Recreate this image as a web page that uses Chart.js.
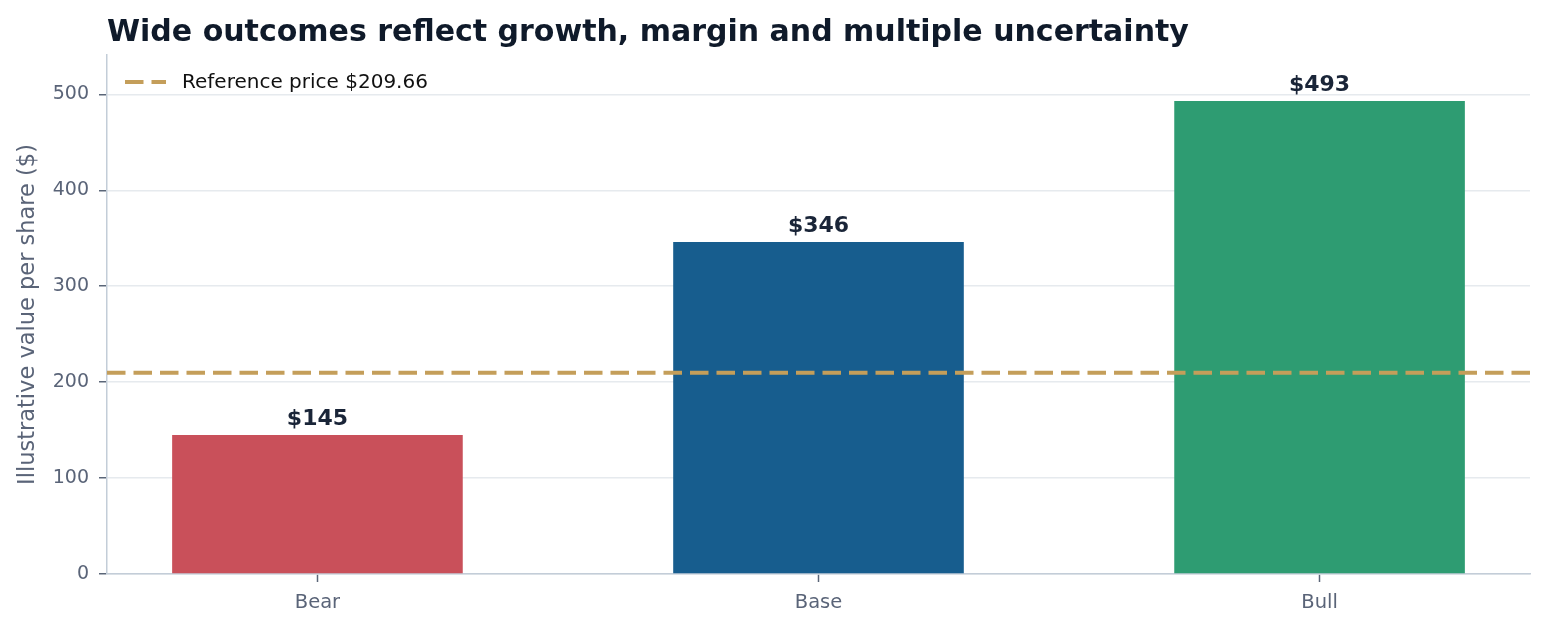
<!DOCTYPE html>
<html>
<head>
<meta charset="utf-8">
<script src="https://cdn.jsdelivr.net/npm/chart.js@4.4.1/dist/chart.umd.min.js"></script>
<style>
  html, body { margin: 0; padding: 0; background: #ffffff; }
  #wrap { width: 1548px; height: 628px; position: relative; }
</style>
</head>
<body>
<div id="wrap"><canvas id="chart"></canvas></div>
<script>
// Data
const scenarios = ['Bear', 'Base', 'Bull'];
const values = [145, 346, 493];
const barColors = ['#c9505a', '#175d8e', '#2e9c72'];
const refPrice = 209.66;
const refLabel = 'Reference price $209.66';
const yTicks = [0, 100, 200, 300, 400, 500];

const titleText = 'Wide outcomes reflect growth, margin and multiple uncertainty';
const FONT = "'DejaVu Sans', sans-serif";

// x axis bounds (matplotlib-like margins around the 3 bars)
const xMin = -0.42, xMax = 2.42;

// Title drawn flush with the plot's left edge
const titlePlugin = {
    id: 'leftTitle',
    afterDraw(chart) {
        const ctx = chart.ctx;
        ctx.save();
        ctx.font = 'bold 30px ' + FONT;
        ctx.fillStyle = '#0f1a2a';
        ctx.textBaseline = 'alphabetic';
        ctx.textAlign = 'left';
        ctx.fillText(titleText, chart.chartArea.left, 41);
        ctx.restore();
    }
};

// Value labels above each bar
const barLabels = {
    id: 'barLabels',
    afterDatasetsDraw(chart) {
        const ctx = chart.ctx;
        const meta = chart.getDatasetMeta(1);
        ctx.save();
        ctx.font = 'bold 22px ' + FONT;
        ctx.fillStyle = '#1a2538';
        ctx.textAlign = 'center';
        ctx.textBaseline = 'alphabetic';
        meta.data.forEach((bar, i) => {
            ctx.fillText('$' + values[i], bar.x, bar.y - 10);
        });
        ctx.restore();
    }
};

// Legend inside the plot, top-left
const innerLegend = {
    id: 'innerLegend',
    afterDraw(chart) {
        const ctx = chart.ctx;
        const x0 = chart.chartArea.left + 18;
        const y0 = 82;
        ctx.save();
        ctx.strokeStyle = '#c49e5a';
        ctx.lineWidth = 4;
        ctx.setLineDash([18.5, 8]);
        ctx.beginPath();
        ctx.moveTo(x0, y0);
        ctx.lineTo(x0 + 41, y0);
        ctx.stroke();
        ctx.setLineDash([]);
        ctx.font = '20px ' + FONT;
        ctx.fillStyle = '#111111';
        ctx.textBaseline = 'middle';
        ctx.fillText(refLabel, x0 + 57, y0 + 1);
        ctx.restore();
    }
};

const ctx = document.getElementById('chart').getContext('2d');
new Chart(ctx, {
    type: 'bar',
    data: {
        datasets: [
            {
                type: 'line',
                label: refLabel,
                data: [{ x: xMin, y: refPrice }, { x: xMax, y: refPrice }],
                borderColor: '#c49e5a',
                borderWidth: 4,
                borderDash: [18.5, 8],
                pointRadius: 0,
                fill: false,
                order: 0
            },
            {
                label: 'Value per share',
                data: values.map((v, i) => ({ x: i, y: v })),
                backgroundColor: barColors,
                borderWidth: 0,
                categoryPercentage: 1,
                barPercentage: 0.58,
                order: 1
            }
        ]
    },
    options: {
        responsive: true,
        maintainAspectRatio: false,
        animation: false,
        layout: { padding: { top: 55, right: 18, left: 0, bottom: 0 } },
        plugins: {
            legend: { display: false },
            title: { display: false },
            tooltip: { enabled: false }
        },
        scales: {
            x: {
                type: 'linear',
                min: xMin,
                max: xMax,
                offset: false,
                afterFit(scale) { scale.height = 54; },
                ticks: {
                    stepSize: 1,
                    includeBounds: false,
                    padding: 9,
                    color: '#5a6478',
                    font: { family: FONT, size: 19.5 },
                    callback: (v) => scenarios[v] !== undefined ? scenarios[v] : ''
                },
                grid: {
                    offset: false,
                    drawOnChartArea: false,
                    drawTicks: true,
                    tickLength: 8,
                    tickColor: '#5b6678',
                    tickWidth: 1.5
                },
                border: { display: true, color: '#c3cdd8', width: 1.5 }
            },
            y: {
                min: 0,
                max: 541,
                afterFit(scale) { scale.width = 107; },
                afterBuildTicks(scale) { scale.ticks = yTicks.map(v => ({ value: v })); },
                ticks: {
                    padding: 10,
                    color: '#5a6478',
                    font: { family: FONT, size: 19 }
                },
                grid: {
                    color: '#e6eaee',
                    lineWidth: 1.5,
                    drawTicks: true,
                    tickLength: 8,
                    tickColor: '#5b6678',
                    tickWidth: 1.5
                },
                border: { display: true, color: '#c3cdd8', width: 1.5 },
                title: {
                    display: true,
                    text: 'Illustrative value per share ($)',
                    color: '#5a6478',
                    font: { family: FONT, size: 22.5 },
                    padding: { top: 15, bottom: 0 }
                }
            }
        }
    },
    plugins: [titlePlugin, barLabels, innerLegend]
});
</script>
</body>
</html>
